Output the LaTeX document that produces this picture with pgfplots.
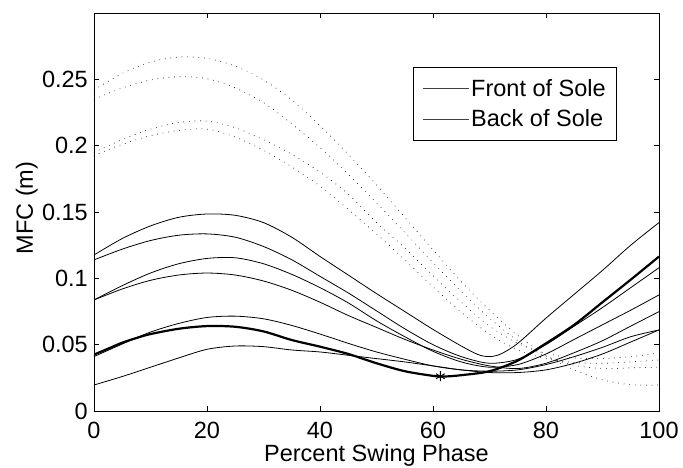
\documentclass[border=0pt]{standalone}
\usepackage{pgfplots}
\pgfplotsset{compat=1.18}
\usepackage{fontspec}
\setmainfont{Liberation Sans}
\newcommand{\fs}{\fontsize{23.5}{28}\selectfont}
\begin{document}
\begin{tikzpicture}
\useasboundingbox (-94pt,-56pt) rectangle (589pt,411pt);
\begin{axis}[
  scale only axis, width=565pt, height=398pt,
  xmin=0, xmax=100, ymin=0, ymax=0.3,
  xtick={0,20,40,60,80,100}, xticklabels={0,20,40,60,80,100},
  ytick={0,0.05,0.1,0.15,0.2,0.25}, yticklabels={0,0.05,0.1,0.15,0.2,0.25},
  tick align=inside, major tick length=5pt,
  axis line style={black, line width=0.8pt},
  every tick/.style={black, line width=0.8pt},
  tick label style={font=\fs},
  xticklabel style={anchor=north, inner sep=0pt, yshift=-10.5pt},
  yticklabel style={anchor=east, inner sep=0pt, xshift=-6pt},
  xlabel={Percent Swing Phase}, ylabel={MFC (m)},
  label style={font=\fs},
  xlabel style={at={(axis description cs:0.5,-0.1274)}, anchor=base},
  ylabel style={at={(axis description cs:-0.108,0.51)}, anchor=base, rotate=0},
  legend style={at={(axis description cs:0.5646,0.8643)}, anchor=north west,
    draw=black, line width=0.8pt, fill=white, font=\fs,
    inner xsep=9pt, inner ysep=10pt, row sep=8pt,
    nodes={inner sep=2pt}},
  legend cell align=left,
  legend image code/.code={\draw[#1, line width=0.8pt, black!75] (0pt,0pt) -- (46pt,0pt);},
]
% solid (front / back of sole)
\addplot[black, line width=0.8pt, smooth] coordinates {(0,0.1176)(5,0.130)(10,0.1395)(15,0.146)(20,0.1485)(25,0.1475)(30,0.1420)(35,0.1310)(40,0.1165)(45,0.1025)(50,0.0885)(55,0.0750)(60,0.0615)(65,0.0490)(68,0.0425)(70,0.0410)(72,0.0430)(75,0.0510)(80,0.0700)(85,0.0880)(90,0.1060)(95,0.1250)(100,0.1420)};
\addplot[black, line width=0.8pt, smooth] coordinates {(0,0.1139)(5,0.122)(10,0.1285)(15,0.1325)(20,0.1335)(25,0.131)(30,0.124)(35,0.114)(40,0.1015)(45,0.089)(50,0.0755)(55,0.062)(60,0.050)(65,0.041)(70,0.036)(75,0.039)(80,0.050)(85,0.064)(90,0.078)(95,0.093)(100,0.108)};
\addplot[black, line width=0.8pt, smooth] coordinates {(0,0.0837)(5,0.0945)(10,0.104)(15,0.111)(20,0.115)(25,0.1155)(30,0.111)(35,0.103)(40,0.093)(45,0.0815)(50,0.068)(55,0.056)(60,0.045)(65,0.037)(70,0.033)(75,0.035)(80,0.043)(85,0.054)(90,0.065)(95,0.076)(100,0.0875)};
\addplot[black, line width=0.8pt, smooth] coordinates {(0,0.0837)(5,0.092)(10,0.0985)(15,0.1025)(20,0.104)(25,0.1025)(30,0.098)(35,0.091)(40,0.082)(45,0.072)(50,0.063)(55,0.054)(60,0.046)(65,0.039)(70,0.034)(75,0.032)(80,0.036)(85,0.044)(90,0.053)(95,0.064)(100,0.0749)};
\addplot[black, line width=0.8pt, smooth] coordinates {(0,0.041)(5,0.0505)(10,0.0595)(15,0.066)(20,0.0705)(25,0.0715)(30,0.0695)(35,0.0645)(40,0.058)(45,0.051)(50,0.0445)(55,0.039)(60,0.034)(65,0.031)(70,0.030)(75,0.031)(80,0.035)(85,0.041)(90,0.048)(95,0.056)(100,0.0611)};
\addplot[black, line width=0.8pt, smooth] coordinates {(0,0.0196)(5,0.026)(10,0.033)(15,0.040)(20,0.0465)(25,0.049)(30,0.0485)(35,0.046)(40,0.0445)(45,0.042)(50,0.0395)(55,0.037)(60,0.034)(65,0.031)(70,0.029)(75,0.029)(80,0.031)(85,0.036)(90,0.043)(95,0.052)(100,0.0611)};
% dotted
\addplot[black, smooth, line width=0.9pt, line cap=round, dash pattern=on 0pt off 5.6pt] coordinates {(0,0.242)(5,0.2545)(10,0.263)(15,0.2668)(20,0.2658)(25,0.2600)(30,0.2495)(35,0.2345)(40,0.2150)(45,0.1935)(50,0.1705)(55,0.1460)(60,0.1215)(65,0.0975)(70,0.0760)(75,0.0570)(80,0.0420)(85,0.0310)(90,0.0235)(95,0.0198)(100,0.0196)};
\addplot[black, smooth, line width=0.9pt, line cap=round, dash pattern=on 0pt off 5.6pt] coordinates {(0,0.235)(5,0.2435)(10,0.2495)(15,0.252)(20,0.2505)(25,0.2435)(30,0.2325)(35,0.2165)(40,0.1985)(45,0.1785)(50,0.157)(55,0.1345)(60,0.112)(65,0.090)(70,0.070)(75,0.053)(80,0.041)(85,0.0345)(90,0.032)(95,0.0325)(100,0.0330)};
\addplot[black, smooth, line width=0.9pt, line cap=round, dash pattern=on 0pt off 5.6pt] coordinates {(0,0.195)(5,0.2045)(10,0.2125)(15,0.2175)(20,0.2185)(25,0.2135)(30,0.2045)(35,0.1935)(40,0.1800)(45,0.1635)(50,0.1420)(55,0.1230)(60,0.1020)(65,0.0820)(70,0.0640)(75,0.0510)(80,0.0435)(85,0.0400)(90,0.0395)(95,0.0410)(100,0.0437)};
\addplot[black, smooth, line width=0.9pt, line cap=round, dash pattern=on 0pt off 5.6pt] coordinates {(0,0.1925)(5,0.2010)(10,0.2075)(15,0.2115)(20,0.2125)(25,0.2065)(30,0.1965)(35,0.1840)(40,0.1695)(45,0.1520)(50,0.1335)(55,0.1140)(60,0.0935)(65,0.0745)(70,0.0580)(75,0.0460)(80,0.0395)(85,0.0365)(90,0.0360)(95,0.0370)(100,0.0385)};
% thick selected trajectory
\addplot[black, smooth, line width=2.2pt] coordinates {(0,0.0425)(2.5,0.047)(5,0.0515)(7.5,0.055)(10,0.058)(15,0.062)(20,0.064)(25,0.0635)(30,0.060)(35,0.0535)(40,0.0485)(45,0.043)(50,0.036)(55,0.030)(60,0.0265)(62,0.026)(65,0.027)(70,0.030)(75,0.038)(80,0.051)(85,0.065)(90,0.082)(95,0.099)(100,0.1164)};
\addplot[black, only marks, mark=asterisk, mark size=5pt, line width=1pt] coordinates {(61.3,0.0262)};
\legend{Front of Sole, Back of Sole}
\end{axis}
\end{tikzpicture}
\end{document}
